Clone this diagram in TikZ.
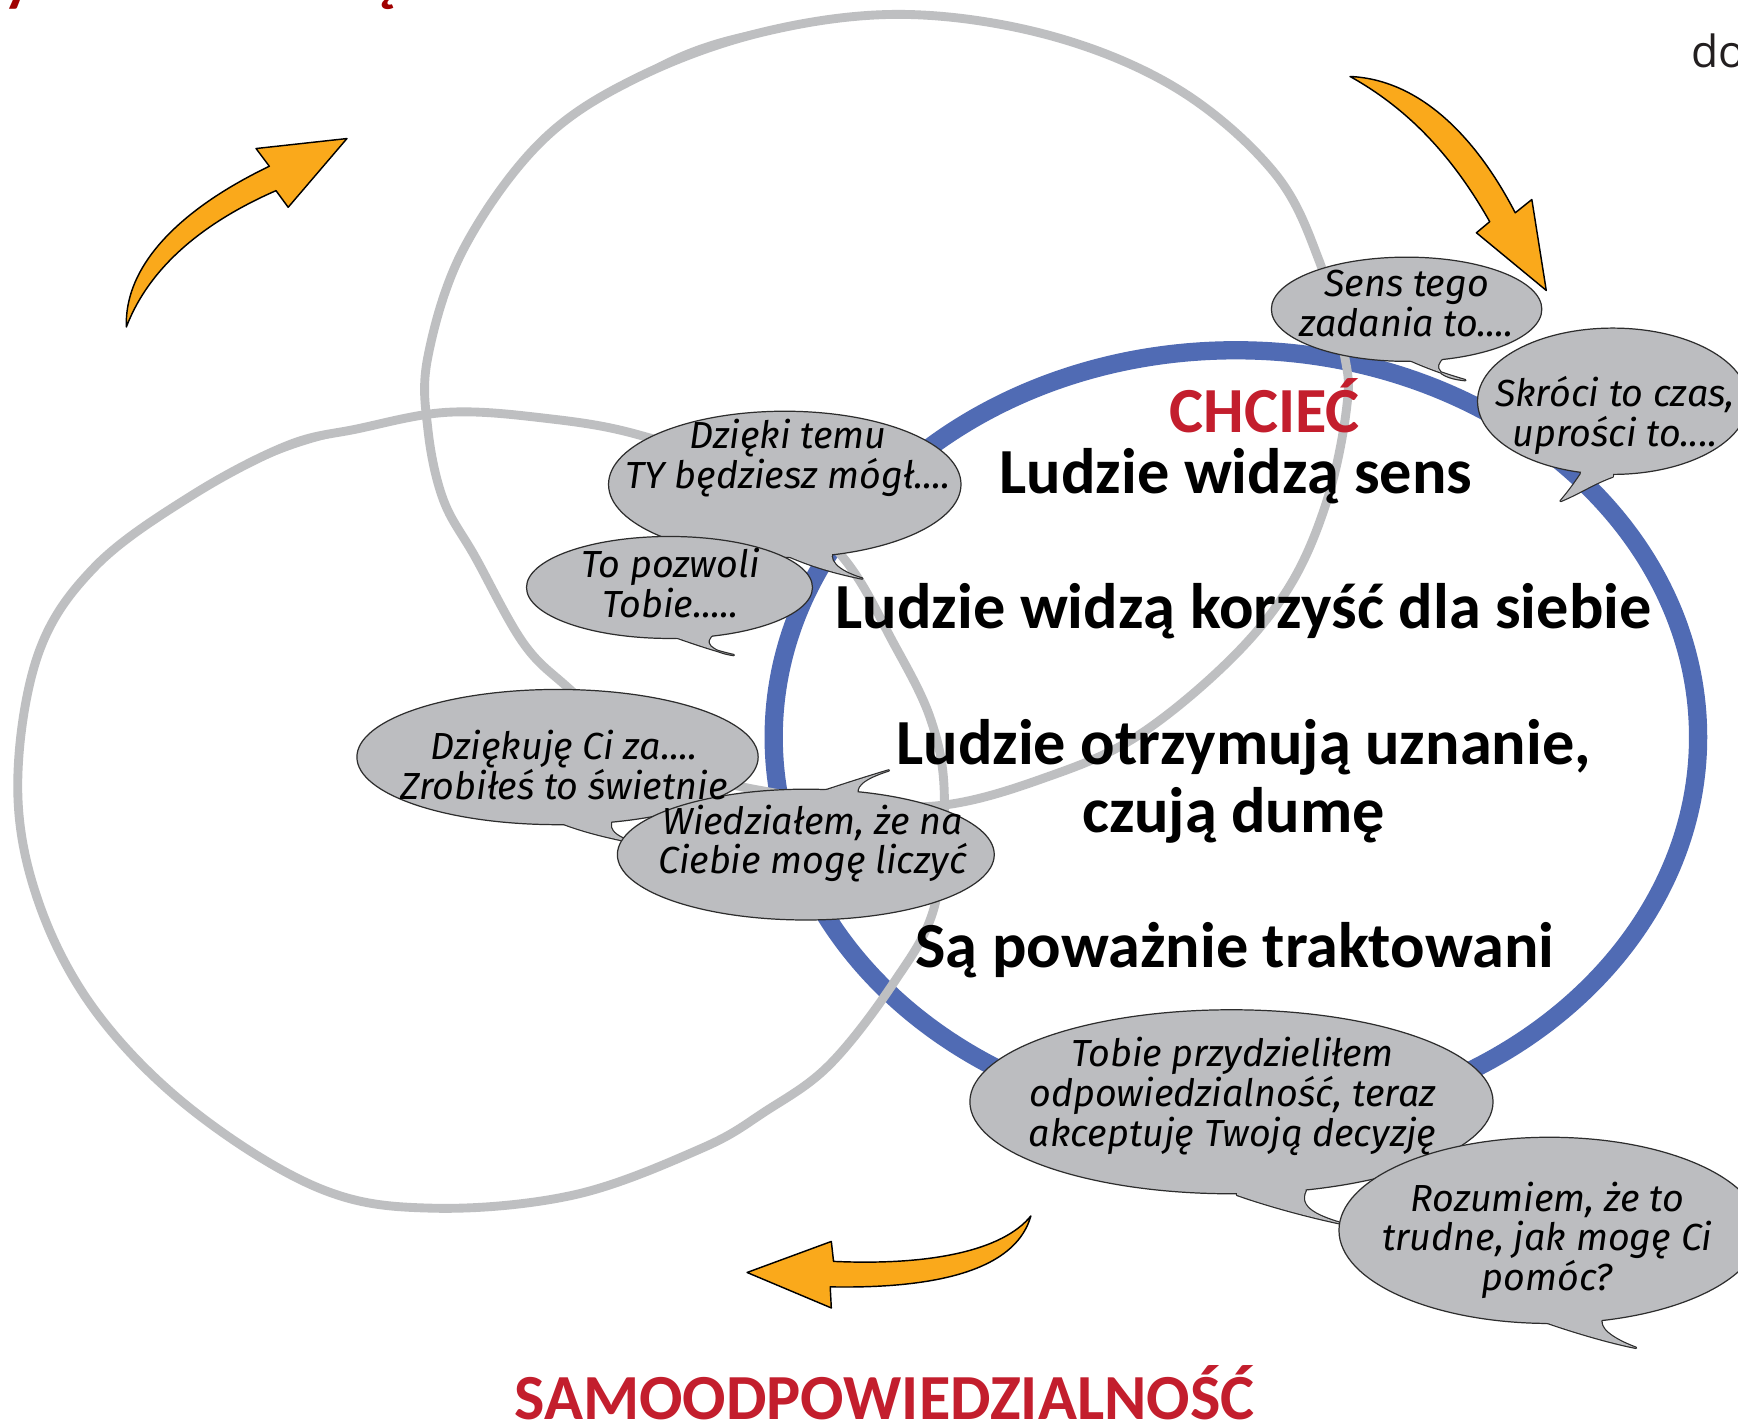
\documentclass[tikz,border=0pt]{standalone}
\usepackage{fontspec}
\usepackage{graphicx}
\setmainfont{Carlito}
\newfontfamily\handfont{Fira Sans}
\newfontfamily\dofont{Open Sans}
\definecolor{loopgray}{RGB}{190,191,193}
\definecolor{ringblue}{RGB}{80,107,180}
\definecolor{arroworange}{RGB}{250,169,27}
\definecolor{bubgray}{RGB}{188,189,192}
\definecolor{bubline}{RGB}{45,45,45}
\definecolor{chred}{RGB}{195,30,45}
\definecolor{darkred}{RGB}{160,0,0}
\definecolor{dogray}{RGB}{35,31,32}
\newcommand\bubble[4]{%
  \path[tailstroke] #4;
  \path[bubbody] #1 ellipse [x radius=#2pt, y radius=#3pt];
  \path[tailfill] #4;
}
\begin{document}
\begin{tikzpicture}[x=1pt,y=-1pt,
  grayloop/.style={draw=loopgray, line width=8pt, line join=round, line cap=round},
  bluering/.style={draw=ringblue, line width=16.5pt},
  arrowfill/.style={fill=arroworange, draw=black, line width=1.3pt, line join=round},
  bubbody/.style={fill=bubgray, draw=bubline, line width=1.1pt},
  tailstroke/.style={fill=bubgray, draw=bubline, line width=2.2pt, line join=round},
  tailfill/.style={fill=bubgray},
  bubtext/.style={font=\handfont\itshape\fontsize{34}{36}\selectfont, align=center, inner sep=0pt},
  maintext/.style={font=\bfseries\fontsize{58}{70}\selectfont, inner sep=0pt, anchor=base},
]
\useasboundingbox (0,0) rectangle (1568,1284);
\fill[white] (0,0) rectangle (1568,1284);

% cropped title remnants
\node[font=\bfseries\fontsize{56}{60}\selectfont, text=darkred, anchor=base west, inner sep=0pt] (ty) at (3,0) {y};
\node[font=\bfseries\fontsize{56}{60}\selectfont, text=darkred, anchor=base west, inner sep=0pt] (tq) at (328,0) {ą};
\node[font=\dofont\fontsize{40}{48}\selectfont, text=dogray, anchor=base west, inner sep=0pt] (do) at (1526,61) {do};

% blue ring
\draw[bluering] (1115,665) ellipse [x radius=417pt, y radius=349pt];

% gray loops
\draw[grayloop] plot[smooth cycle, tension=0.6] coordinates {(815,13) (947,32) (1062,80) (1149,155) (1190,235) (1213,321) (1215,367) (1198,449) (1164,528) (1108,597) (1023,666) (939,703) (854,726) (770,726) (702,716) (637,701) (570,668) (512,620) (472,580) (429,503) (400,451) (386,387) (386,322) (418,225) (487,129) (573,71) (688,29)};
\draw[grayloop] plot[smooth cycle, tension=0.6] coordinates {(16,709) (34.5,813) (86,912) (173,1001) (288,1072) (390,1090) (518,1078) (633,1036) (690,1003) (748,961) (806,887) (843,818) (852,719) (840,650) (806,580) (759,501) (680,430) (575,392) (489,377) (403,372) (322,387) (259,402) (173,447) (86,511) (34.5,590)};
\draw[grayloop, line width=5pt] (576,70) .. controls (612,47) and (650,35) .. (690,28);
\draw[grayloop, line width=5pt] (202,430) .. controls (240,409) and (280,395) .. (322,387);

% speech bubbles
\bubble{(708,437)}{159}{66}{(712,485) -- (712,502) .. controls (735,512) and (758,518) .. (778,522) .. controls (755,515) and (745,505) .. (753,494) -- (745,480) -- cycle}
\bubble{(604,530)}{129}{46}{(610,555) -- (610,575) .. controls (630,582) and (648,588) .. (662,591) .. controls (642,588) and (632,580) .. (645,571) -- (640,555) -- cycle}
\bubble{(503,683)}{181}{61}{(505,725) -- (505,742) .. controls (530,752) and (560,758) .. (581,762) .. controls (560,758) and (545,750) .. (553,738) -- (553,722) -- cycle}
\bubble{(727,771)}{170}{59}{(736,735) -- (736,716) .. controls (760,708) and (785,700) .. (802,695) .. controls (780,702) and (768,710) .. (776,720) -- (776,735) -- cycle}
\bubble{(1269,279)}{122}{47}{(1272,305) -- (1270,324) .. controls (1290,333) and (1305,338) .. (1322,343) .. controls (1300,341) and (1290,332) .. (1303,322) -- (1300,305) -- cycle}
\bubble{(1455,362)}{122}{66}{(1430,410) -- (1426,428) .. controls (1420,437) and (1414,445) .. (1408,452) .. controls (1425,445) and (1438,436) .. (1455,430) -- (1455,410) -- cycle}
\bubble{(1111,994)}{236}{83}{(1116,1060) -- (1116,1078) .. controls (1150,1090) and (1190,1100) .. (1215,1105) .. controls (1190,1098) and (1170,1090) .. (1178,1074) -- (1178,1060) -- cycle}
\bubble{(1398,1110)}{190}{84}{(1392,1172) -- (1392,1192) .. controls (1420,1202) and (1455,1212) .. (1476,1216) .. controls (1455,1208) and (1440,1198) .. (1446,1188) -- (1446,1172) -- cycle}

% orange arrows
\draw[arrowfill] (114,295) .. controls (112,235) and (170,185) .. (243,150) -- (231,134) -- (313,125) -- (260,187) -- (249,172) .. controls (185,200) and (135,240) .. cycle;
\draw[arrowfill] (1218,69) .. controls (1285,72) and (1335,130) .. (1367,192) -- (1382,180) -- (1395,262) -- (1332,210) -- (1344,200) .. controls (1310,140) and (1270,98) .. cycle;
\draw[arrowfill] (752,1138) .. controls (840,1142) and (905,1128) .. (930,1097) .. controls (918,1140) and (860,1163) .. (749,1161) -- (750,1180) -- (674,1148) -- (750,1120) -- cycle;

% bubble texts
\node[bubtext] (t1) at (1269,274) {Sens tego\\zadania to....};
\node[bubtext] (t2) at (1457,375) {Skróci to czas,\\uprości to....};
\node[bubtext] (t3) at (711,413) {Dzięki temu\\TY będziesz mógł....};
\node[bubtext] (t4) at (605,526) {To pozwoli\\Tobie.....};
\node[bubtext] (t5) at (509,690) {Dziękuję Ci za....\\Zrobiłeś to świetnie};
\node[bubtext] (t6) at (733,761) {Wiedziałem, że na\\Ciebie mogę liczyć};
\node[bubtext] (t7) at (1112,989) {Tobie przydzieliłem\\odpowiedzialność, teraz\\akceptuję Twoją decyzję};
\node[bubtext] (t8) at (1396,1119) {Rozumiem, że to\\trudne, jak mogę Ci\\pomóc?};

% main texts
\node[maintext, text=chred] (chciec) at (1141,390) {CHCIEĆ};
\node[maintext] (l1) at (1115,445) {Ludzie widzą sens};
\node[maintext] (l2) at (1122,567) {Ludzie widzą korzyść dla siebie};
\node[maintext] (l3) at (1122,690) {Ludzie otrzymują uznanie,};
\node[maintext] (l4) at (1113,751) {czują dumę};
\node[maintext] (l5) at (1114,873) {Są poważnie traktowani};
\node[maintext, text=chred] (samo) at (798,1281) {SAMOODPOWIEDZIALNOŚĆ};
\end{tikzpicture}
\end{document}
